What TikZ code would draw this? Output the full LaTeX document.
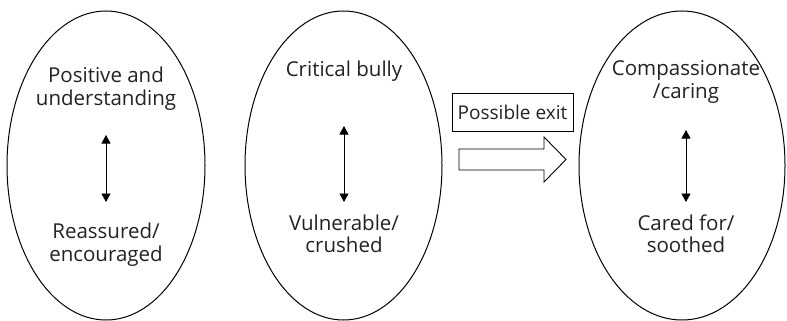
\documentclass[tikz,border=0pt]{standalone}
\usepackage{fontspec}
\setmainfont{Open Sans}
\usetikzlibrary{arrows.meta}
\definecolor{txt}{HTML}{222222}
\tikzset{
  oval/.style={draw=black, line width=1pt},
  lbl/.style={anchor=base, inner sep=0pt, text=txt, font=\fontsize{20.5}{24}\selectfont},
  updown/.style={line width=0.9pt, {Triangle[length=8.5pt,width=9pt]}-{Triangle[length=8.5pt,width=9pt]}},
  exitbox/.style={draw=black, line width=0.9pt, inner sep=0pt, minimum width=121pt, minimum height=38pt, text=txt, font=\fontsize{19}{22}\selectfont},
  blockarrow/.style={draw=black, line width=0.9pt, fill=white}
}
\begin{document}
\begin{tikzpicture}[x=1pt,y=-1pt]
\useasboundingbox (0,0) rectangle (787,321);
% ellipses
\draw[oval] (106,165.5) ellipse [x radius=99, y radius=154.5];
\draw[oval] (343.5,165.5) ellipse [x radius=98.5, y radius=154.5];
\draw[oval] (682,165.5) ellipse [x radius=103, y radius=154.5];
% ellipse 1
\node[lbl] (a1) at (106,82) {Positive and};
\node[lbl] (a2) at (106,105) {understanding};
\node[lbl] (a3) at (106,238) {Reassured/};
\node[lbl] (a4) at (106,261) {encouraged};
\coordinate (a5) at (106,135);
\coordinate (a6) at (106,202);
\draw[updown] (a5) -- (a6);
% ellipse 2
\node[lbl] (b1) at (344,77) {Critical bully};
\node[lbl] (b2) at (344,230) {Vulnerable/};
\node[lbl] (b3) at (344,252) {crushed};
\coordinate (b4) at (344,126);
\coordinate (b5) at (344,202);
\draw[updown] (b4) -- (b5);
% ellipse 3
\node[lbl] (c1) at (686,76) {Compassionate};
\node[lbl] (c2) at (686,98) {/caring};
\node[lbl] (c3) at (686,230) {Cared for/};
\node[lbl] (c4) at (686,252) {soothed};
\coordinate (c5) at (686,130);
\coordinate (c6) at (686,202);
\draw[updown] (c5) -- (c6);
% exit
\node[exitbox] (exit) at (512.5,112) {Possible exit};
\draw[blockarrow] (459,149) -- (544,149) -- (544,137) -- (566,159.5) -- (544,182) -- (544,170) -- (459,170) -- cycle;
\end{tikzpicture}
\end{document}
